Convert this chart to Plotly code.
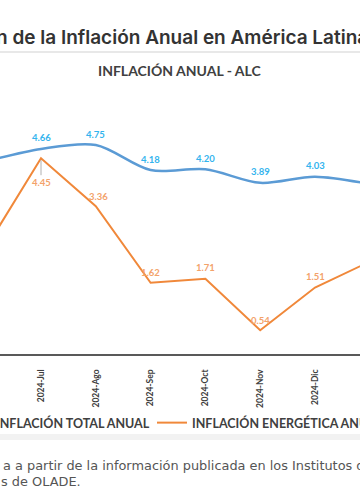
import plotly.graph_objects as go

months = ["2024-Jun", "2024-Jul", "2024-Ago", "2024-Sep", "2024-Oct", "2024-Nov", "2024-Dic", "2025-Ene"]
total_anual = [4.38, 4.66, 4.75, 4.18, 4.20, 3.89, 4.03, 3.86]
energetica_anual = [2.42, 4.45, 3.36, 1.62, 1.71, 0.54, 1.51, 2.10]

# label offsets (px) for the energy series: (xshift, yshift)
energ_offsets = [(0, 10), (0, -24), (3, 10), (0, 10), (0, 11), (0, 10), (0, 11), (0, 10)]

W, H = 360, 504
T, B = 100, 150
PH = H - T - B


def py(px):
    return (H - B - px) / PH


def pxx(px):
    return px / W


BLUE = "#5B9BD5"
ORANGE = "#F0883A"
LBLUE = "#33B4EE"
LORANGE = "#F3A26A"
DARK = "#404040"

fig = go.Figure()
fig.add_trace(go.Scatter(
    x=months, y=total_anual, mode="lines", name="INFLACIÓN TOTAL ANUAL",
    line=dict(color=BLUE, width=2.5, shape="spline", smoothing=0.9), legend="legend",
))
fig.add_trace(go.Scatter(
    x=months, y=energetica_anual, mode="lines", name="INFLACIÓN ENERGÉTICA ANUAL",
    line=dict(color=ORANGE, width=2), legend="legend2",
))

annotations = []
for m, v in zip(months, total_anual):
    annotations.append(dict(x=m, y=v, xref="x", yref="y", text=f"{v:.2f}", showarrow=False,
                            yshift=11, font=dict(family="Lato", size=9.5, color=LBLUE, weight="bold")))
for m, v, (dx, dy) in zip(months, energetica_anual, energ_offsets):
    if dy < 0:
        annotations.append(dict(x=m, y=v, xref="x", yref="y", text=f"{v:.2f}", showarrow=True,
                                arrowhead=0, arrowwidth=1, arrowcolor="#B0B0B0", ax=dx, ay=-dy,
                                standoff=2, startstandoff=0,
                                font=dict(family="Lato", size=9.5, color=LORANGE, weight="bold")))
    else:
        annotations.append(dict(x=m, y=v, xref="x", yref="y", text=f"{v:.2f}", showarrow=False,
                                xshift=dx, yshift=dy,
                                font=dict(family="Lato", size=9.5, color=LORANGE, weight="bold")))

annotations += [
    dict(x=pxx(-6), y=py(37), xref="paper", yref="paper", xanchor="left", yanchor="middle",
         text="n de la Inflación Anual en América Latina y el Caribe", showarrow=False,
         font=dict(family="Inter", size=19, color="#333333", weight=600)),
    dict(x=pxx(179), y=py(70), xref="paper", yref="paper", xanchor="center", yanchor="middle",
         text="INFLACIÓN ANUAL - ALC", showarrow=False,
         font=dict(family="Lato", size=14, color=DARK, weight="bold")),
    dict(x=pxx(1), y=py(465), xref="paper", yref="paper", xanchor="left", yanchor="middle",
         text="a a partir de la información publicada en los Institutos de Estadística", showarrow=False,
         font=dict(family="DejaVu Sans", size=12.9, color="#555555")),
    dict(x=pxx(-1), y=py(481), xref="paper", yref="paper", xanchor="left", yanchor="middle",
         text="s de OLADE.", showarrow=False,
         font=dict(family="DejaVu Sans", size=12.9, color="#555555")),
]

shapes = [
    dict(type="line", xref="paper", yref="paper", x0=0, x1=1, y0=py(52), y1=py(52),
         line=dict(color="#E0E0E0", width=1.5)),
    dict(type="rect", xref="paper", yref="paper", x0=0, x1=1, y0=py(434), y1=py(440),
         fillcolor="#F2F2F2", line=dict(width=0)),
]

x_lo = 1 + (0 - 41) / 54.8
x_hi = 1 + (360 - 41) / 54.8

legend_font = dict(family="Lato", size=12.5, color=DARK, weight="bold")

fig.update_layout(
    width=W, height=H,
    margin=dict(l=0, r=0, t=T, b=B, autoexpand=False),
    paper_bgcolor="white", plot_bgcolor="white",
    showlegend=True,
    legend=dict(orientation="h", x=pxx(-44), y=py(423), xanchor="left", yanchor="middle",
                xref="paper", yref="paper", font=legend_font, bgcolor="rgba(0,0,0,0)"),
    legend2=dict(orientation="h", x=pxx(152), y=py(423), xanchor="left", yanchor="middle",
                 xref="paper", yref="paper", font=legend_font, bgcolor="rgba(0,0,0,0)"),
    xaxis=dict(type="category", range=[x_lo, x_hi], showgrid=False, zeroline=False,
               showline=True, linecolor="#595959", linewidth=2, ticks="",
               tickangle=-90, ticklabelstandoff=10,
               tickfont=dict(family="Lato", size=8.5, color=DARK, weight="bold")),
    yaxis=dict(range=[0, PH / 44.0], showgrid=False, zeroline=False, showline=False,
               showticklabels=False, ticks=""),
    annotations=annotations,
    shapes=shapes,
)

fig.write_html("out.html", config={"displayModeBar": False},
               post_script="document.body.style.margin='0px';document.body.style.overflow='hidden';")
